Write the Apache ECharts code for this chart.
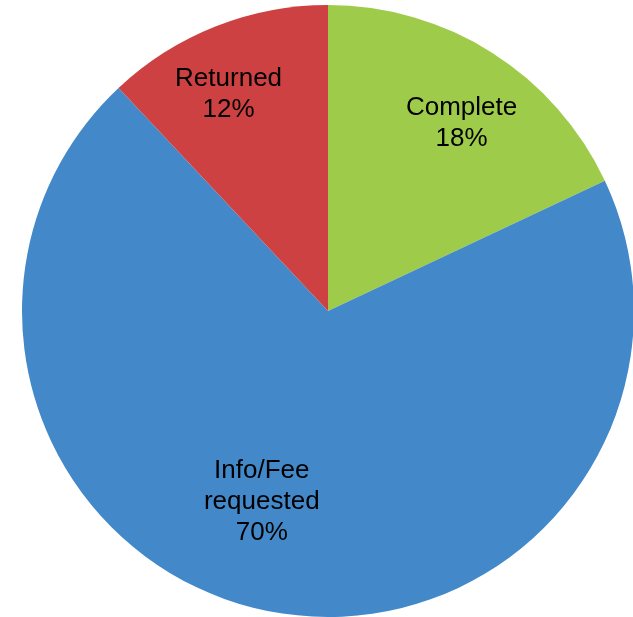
<!DOCTYPE html>
<html>
<head>
<meta charset="utf-8">
<script src="https://cdn.jsdelivr.net/npm/echarts@6/dist/echarts.min.js"></script>
<style>
  html, body { margin: 0; padding: 0; background: #fff; }
  #chart { width: 633px; height: 617px; }
</style>
</head>
<body>
<div id="chart"></div>
<script>
// status breakdown, clockwise from 12 o'clock
const categories = ['Complete', 'Info/Fee\nrequested', 'Returned'];
const shares = [18, 70, 12];
const colors = ['#9fcb4a', '#4389ca', '#ce4142'];
// nudge labels out from the default inside spot
const labelOffsets = [[50, -56], [-37, 38], [-42, -72]];

const chart = echarts.init(document.getElementById('chart'));

const option = {
  animation: false,
  series: [
    {
      type: 'pie',
      center: [328, 311],
      radius: 306,
      startAngle: 90,
      clockwise: true,
      itemStyle: { borderWidth: 0 },
      label: {
        show: true,
        position: 'inside',
        color: '#000',
        fontFamily: 'Liberation Sans, Arial, sans-serif',
        fontSize: 26,
        lineHeight: 31,
        align: 'center',
        formatter: function (p) {
          return p.name + '\n' + p.value + '%';
        }
      },
      labelLine: { show: false },
      emphasis: { disabled: true },
      data: categories.map(function (name, i) {
        return {
          name: name,
          value: shares[i],
          itemStyle: { color: colors[i] },
          label: { offset: labelOffsets[i] }
        };
      })
    }
  ]
};

chart.setOption(option);
</script>
</body>
</html>
